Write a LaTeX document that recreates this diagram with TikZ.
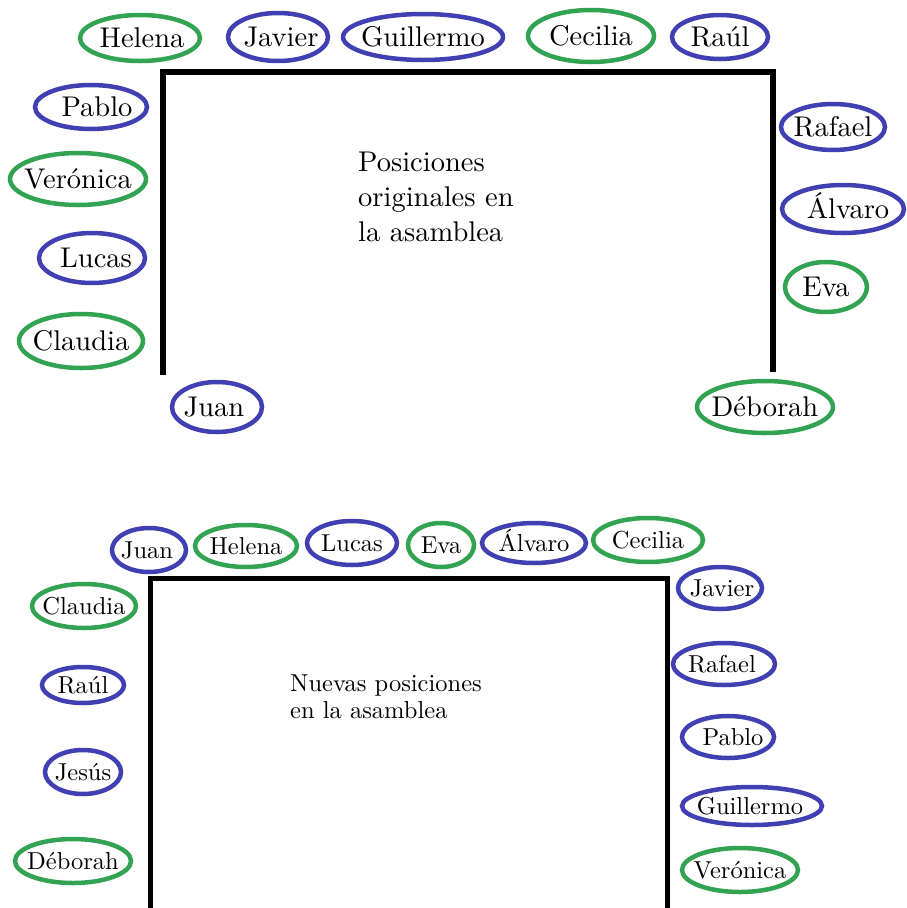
\documentclass[tikz,border=0pt]{standalone}
\usepackage{fontspec}
\IfFontExistsTF{lmroman10-regular.otf}{\setmainfont{lmroman10-regular.otf}}{}
\definecolor{seatblue}{RGB}{64,64,178}
\definecolor{seatgreen}{RGB}{50,163,82}
\tikzset{
  bl/.style={draw=seatblue, line width=4.5pt},
  gr/.style={draw=seatgreen, line width=4.5pt},
  bigname/.style={inner sep=0pt, text height=19.5pt, text depth=0pt, font=\fontsize{28.5}{35}\selectfont},
  smallname/.style={inner sep=0pt, text height=17pt, text depth=0pt, font=\fontsize{24.5}{26.5}\selectfont},
  wall/.style={line width=6pt, line join=miter, line cap=butt},
}
% name, cx, cy, rx, ry, colour style, text style, text, text x-offset
\newcommand\pers[9]{%
  \draw[#6] (#2,#3) ellipse [x radius=#4pt, y radius=#5pt];
  \node[#7] (#1) at (#2+#9,#3) {#8};}
\begin{document}
\begin{tikzpicture}[x=1pt,y=-1pt]
\useasboundingbox (0,0) rectangle (906,908);
% ---------- original positions ----------
\coordinate (a1) at (163,375);
\coordinate (a2) at (163,72);
\coordinate (a3) at (773,72);
\coordinate (a4) at (773,372);
\draw[wall] (a1) -- (a2) -- (a3) -- (a4);
\node[inner sep=0pt, anchor=north west, align=left, font=\fontsize{28.5}{35}\selectfont] (t1) at (358,152)
  {Posiciones\\originales en\\la asamblea};
\pers{helena1}{140}{38}{60}{23}{gr}{bigname}{Helena}{2}
\pers{javier1}{278}{37}{50}{24}{bl}{bigname}{Javier}{3}
\pers{guillermo1}{423}{37}{80}{23}{bl}{bigname}{Guillermo}{0}
\pers{cecilia1}{591}{36}{63}{26}{gr}{bigname}{Cecilia}{0}
\pers{raul1}{720}{37}{48}{22}{bl}{bigname}{Raúl}{0}
\pers{pablo1}{91}{107}{56}{22}{bl}{bigname}{Pablo}{6}
\pers{veronica1}{78}{179}{68}{26}{gr}{bigname}{Verónica}{0}
\pers{lucas1}{92}{258}{53}{25}{bl}{bigname}{Lucas}{4}
\pers{claudia1}{81}{341}{62}{27}{gr}{bigname}{Claudia}{0}
\pers{juan1}{217}{407}{45}{25}{bl}{bigname}{Juan}{-3}
\pers{rafael1}{833}{127}{52}{23}{bl}{bigname}{Rafael}{0}
\pers{alvaro1}{843}{209}{61}{24}{bl}{bigname}{Álvaro}{5}
\pers{eva1}{826}{287}{41}{25}{gr}{bigname}{Eva}{0}
\pers{deborah1}{765}{407}{68}{26}{gr}{bigname}{Déborah}{0}
% ---------- new positions ----------
\coordinate (b1) at (150,908);
\coordinate (b2) at (150,578);
\coordinate (b3) at (667,578);
\coordinate (b4) at (667,908);
\draw[wall, line width=5pt] (b1) -- (b2) -- (b3) -- (b4);
\node[inner sep=0pt, anchor=north west, align=left, font=\fontsize{24.5}{26.5}\selectfont] (t2) at (290,675)
  {Nuevas posiciones\\en la asamblea};
\pers{juan2}{149}{550}{37}{22}{bl}{smallname}{Juan}{-2}
\pers{helena2}{246}{546}{51}{21}{gr}{smallname}{Helena}{0}
\pers{lucas2}{352}{543}{45}{22}{bl}{smallname}{Lucas}{0}
\pers{eva2}{441}{545}{33}{22}{gr}{smallname}{Eva}{0}
\pers{alvaro2}{534}{543}{52}{20}{bl}{smallname}{Álvaro}{0}
\pers{cecilia2}{648}{540}{55}{22}{gr}{smallname}{Cecilia}{0}
\pers{javier2}{720}{588}{42}{21}{bl}{smallname}{Javier}{2}
\pers{claudia2}{84}{606}{52}{22}{gr}{smallname}{Claudia}{0}
\pers{raul2}{83}{685}{41}{18}{bl}{smallname}{Raúl}{0}
\pers{jesus2}{83}{772}{38}{22}{bl}{smallname}{Jesús}{0}
\pers{deborah2}{73}{861}{58}{22}{gr}{smallname}{Déborah}{0}
\pers{rafael2}{724}{664}{51}{21}{bl}{smallname}{Rafael}{-2}
\pers{pablo2}{728}{737}{46}{21}{bl}{smallname}{Pablo}{5}
\pers{guillermo2}{752}{806}{70}{19}{bl}{smallname}{Guillermo}{-2}
\pers{veronica2}{740}{870}{58}{22}{gr}{smallname}{Verónica}{0}
\end{tikzpicture}
\end{document}
